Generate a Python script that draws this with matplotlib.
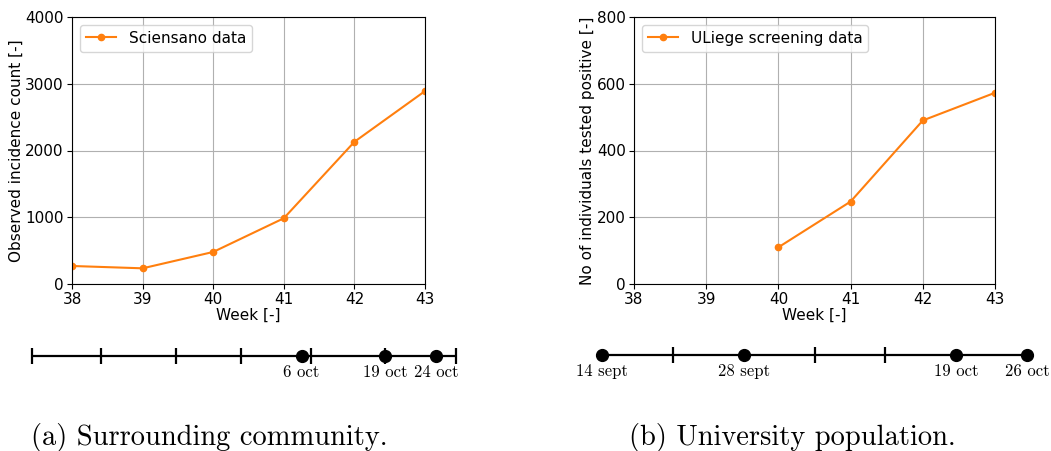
import numpy as np
import matplotlib
matplotlib.use("Agg")
from matplotlib import pyplot as plt

# weekly data
weeks = [38, 39, 40, 41, 42, 43]
sciensano = [270, 235, 480, 985, 2130, 2890]
uliege_weeks = [40, 41, 42, 43]
uliege = [110, 247, 490, 573]

# timelines, in days after 14 sept (schematic, as drawn in the figure)
timeline_len = 42
left_ticks = [0, 6.8, 14.3, 20.7, 27.6, 35, 42]
left_dots = [26.7, 35, 40]
left_labels = ['6 oct', '19 oct', '24 oct']
right_ticks = [7, 21, 28]
right_dots = [0, 14, 35, 42]
right_labels = ['14 sept', '28 sept', '19 oct', '26 oct']

W, H = 1051., 451.
fig = plt.figure(figsize=(W/100, H/100), dpi=100)

def px_axes(x0, y0, x1, y1):
	# pixel box (top-left origin) -> figure axes
	return fig.add_axes([x0/W, 1-y1/H, (x1-x0)/W, (y1-y0)/H])

orange = '#ff7f0e'

def data_panel(ax, x, y, label, ylabel, ymax, yticks):
	ax.plot(x, y, '-o', color=orange, lw=1.5, ms=4.5, label=label)
	ax.set_xlim(38, 43)
	ax.set_ylim(0, ymax)
	ax.set_yticks(yticks)
	ax.set_xticks(weeks)
	ax.grid(True, color='#b0b0b0', lw=0.8)
	ax.set_axisbelow(True)
	ax.tick_params(labelsize=11, length=3.5, pad=2.5)
	ax.set_xlabel('Week [-]', fontsize=11, labelpad=0)
	ax.set_ylabel(ylabel, fontsize=11, labelpad=1)
	ax.legend(loc='upper left', fontsize=11)

ax1 = px_axes(72, 17, 425, 284)
data_panel(ax1, weeks, sciensano, 'Sciensano data', 'Observed incidence count [-]', 4000, [0, 1000, 2000, 3000, 4000])
ax2 = px_axes(634, 17, 995, 284)
data_panel(ax2, uliege_weeks, uliege, 'ULiege screening data', 'No of individuals tested positive [-]', 800, [0, 200, 400, 600, 800])

def timeline(ax, ticks, dots, labels):
	ax.set_xlim(0, timeline_len)
	ax.set_ylim(-1, 1)
	ax.axis('off')
	ax.plot([0, timeline_len], [0, 0], color='k', lw=1.6, clip_on=False, solid_capstyle='butt')
	ax.plot(ticks, np.zeros(len(ticks)), ls='none', marker='|', ms=11, mew=1.6, color='k', clip_on=False)
	ax.plot(dots, np.zeros(len(dots)), ls='none', marker='o', ms=8.5, color='k', clip_on=False)
	for d, lab in zip(dots, labels):
		ax.annotate(lab, (d, 0), xytext=(0, -6), textcoords='offset points',
			ha='center', va='top', fontsize=12, family='cmr10')

ax3 = px_axes(32, 336, 456, 376)
timeline(ax3, left_ticks, left_dots, left_labels)
ax4 = px_axes(602, 335, 1027, 375)
timeline(ax4, right_ticks, right_dots, right_labels)

fig.text(209/W, 1-437/H, '(a) Surrounding community.', ha='center', va='center', fontsize=20.5, family='cmr10')
fig.text(792/W, 1-437/H, '(b) University population.', ha='center', va='center', fontsize=20.5, family='cmr10')

plt.savefig('out.png', dpi=100)
